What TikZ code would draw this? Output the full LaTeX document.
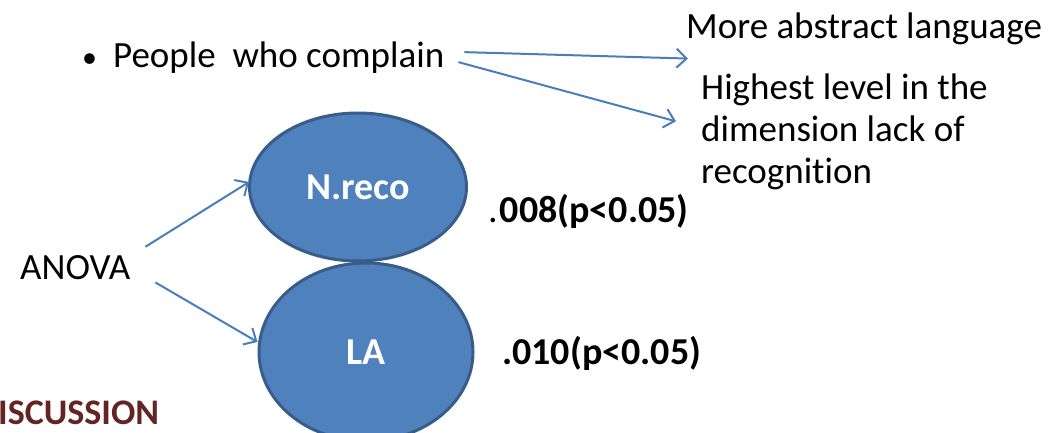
\documentclass[tikz,border=0pt]{standalone}
\usepackage{fontspec}
\setmainfont{Carlito}[Ligatures=NoCommon]
\usetikzlibrary{arrows.meta,positioning,shapes.geometric}
\definecolor{ovalblue}{HTML}{4F81BD}
\definecolor{ovalline}{HTML}{385D8A}
\definecolor{arrowblue}{HTML}{4A7EBB}
\definecolor{titlered}{HTML}{632523}

\begin{document}
\begin{tikzpicture}[
  x=1pt, y=-1pt,
  font=\fontsize{37}{42}\selectfont,
  oval/.style={ellipse, draw=ovalline, line width=3pt, fill=ovalblue, text=white, font=\fontsize{38}{42}\selectfont\bfseries, inner sep=0pt},
  txt/.style={inner sep=0pt, anchor=base west, align=left},
  stat/.style={txt, font=\fontsize{38}{42}\selectfont\bfseries},
  arr/.style={-{Straight Barb[length=10pt,width=19pt]}, draw=arrowblue, line width=2pt}
]
\useasboundingbox (0,0) rectangle (1049,433);

% top line
\node[txt] (people) at (82,68) {{\fontsize{30}{36}\selectfont\textbullet}\hspace{16pt}People~ who complain};
\node[txt] (abstract) at (686,39) {More abstract language};
\node[txt] (highest) at (701,183) {Highest level in the\\dimension lack of\\recogni\kern0pt tion};

% ovals
\node[oval, minimum width=217, minimum height=148] (nreco) at (358,187) {N.reco};
\node[oval, minimum width=214, minimum height=178] (la) at (366,352) {LA};
\node[stat] (pnreco) at (488,222) {{\mdseries.}\hspace{2pt}008(p<0.05)};
\node[stat] (pla) at (502,364) {.010(p<0.05)};

\node[txt] (anova) at (20,279) {ANOVA};
\node[txt, text=titlered, font=\fontsize{36}{40}\selectfont\bfseries] (disc) at (-2,424) {ISCUSSION};

\draw[arr] ([shift={(20,-6)}]people.east) -- ([shift={(2,13)}]abstract.south west);
\draw[arr] ([shift={(14,4)}]people.east) -- ([shift={(-25,-10)}]highest.west);
\draw[arr] ([shift={(15,-8)}]anova.north east) -- ([shift={(1,-5)}]nreco.west);
\draw[arr] ([shift={(25,3)}]anova.south east) -- ([shift={(0,-10)}]la.west);
\end{tikzpicture}
\end{document}
